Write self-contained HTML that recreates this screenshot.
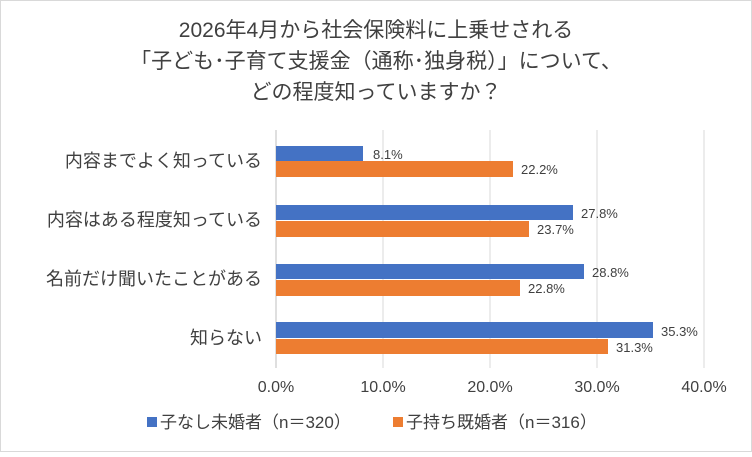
<!DOCTYPE html>
<html><head><meta charset="utf-8"><style>
body{margin:0;background:#fff;}
svg text{font-family:"Liberation Sans","Noto Sans CJK JP",sans-serif;}
</style></head><body>
<svg width="752" height="452" xmlns="http://www.w3.org/2000/svg">
<rect x="0.5" y="0.5" width="751" height="451" fill="#fff" stroke="#d9d9d9"/>
<g font-size="21" fill="#404040" text-anchor="middle">
<text x="376" y="37">2026年4月から社会保険料に上乗せされる</text>
<text x="376" y="68">「子ども･子育て支援金（通称･独身税）」について、</text>
<text x="376" y="99">どの程度知っていますか？</text>
</g>
<g stroke="#d9d9d9">
<line x1="383" y1="130" x2="383" y2="368"/>
<line x1="490" y1="130" x2="490" y2="368"/>
<line x1="597" y1="130" x2="597" y2="368"/>
<line x1="704" y1="130" x2="704" y2="368"/>
</g>
<line x1="276" y1="130" x2="276" y2="368" stroke="#bfbfbf"/>
<g fill="#4472C4">
<rect x="276" y="146" width="87" height="15"/>
<rect x="276" y="205" width="297" height="15"/>
<rect x="276" y="264" width="308" height="15"/>
<rect x="276" y="322" width="377" height="16"/>
</g>
<g fill="#ED7D31">
<rect x="276" y="161" width="237" height="16"/>
<rect x="276" y="221" width="253" height="16"/>
<rect x="276" y="280" width="244" height="16"/>
<rect x="276" y="339" width="332" height="15"/>
</g>
<g font-size="13" fill="#404040">
<text x="373" y="159">8.1%</text>
<text x="521" y="174">22.2%</text>
<text x="581" y="218">27.8%</text>
<text x="537" y="234">23.7%</text>
<text x="592" y="277">28.8%</text>
<text x="528" y="293">22.8%</text>
<text x="661" y="336">35.3%</text>
<text x="616" y="352">31.3%</text>
</g>
<g font-size="18" fill="#404040" text-anchor="end">
<text x="262" y="167">内容までよく知っている</text>
<text x="262" y="226">内容はある程度知っている</text>
<text x="262" y="285">名前だけ聞いたことがある</text>
<text x="262" y="344">知らない</text>
</g>
<g font-size="16" fill="#404040" text-anchor="middle">
<text x="276" y="392">0.0%</text>
<text x="383" y="392">10.0%</text>
<text x="490" y="392">20.0%</text>
<text x="597" y="392">30.0%</text>
<text x="704" y="392">40.0%</text>
</g>
<rect x="147" y="417" width="10" height="10" fill="#4472C4"/>
<text x="160" y="428" font-size="17" fill="#404040">子なし未婚者（n＝320）</text>
<rect x="393" y="417" width="10" height="10" fill="#ED7D31"/>
<text x="406" y="428" font-size="17" fill="#404040">子持ち既婚者（n＝316）</text>
</svg>
</body></html>
